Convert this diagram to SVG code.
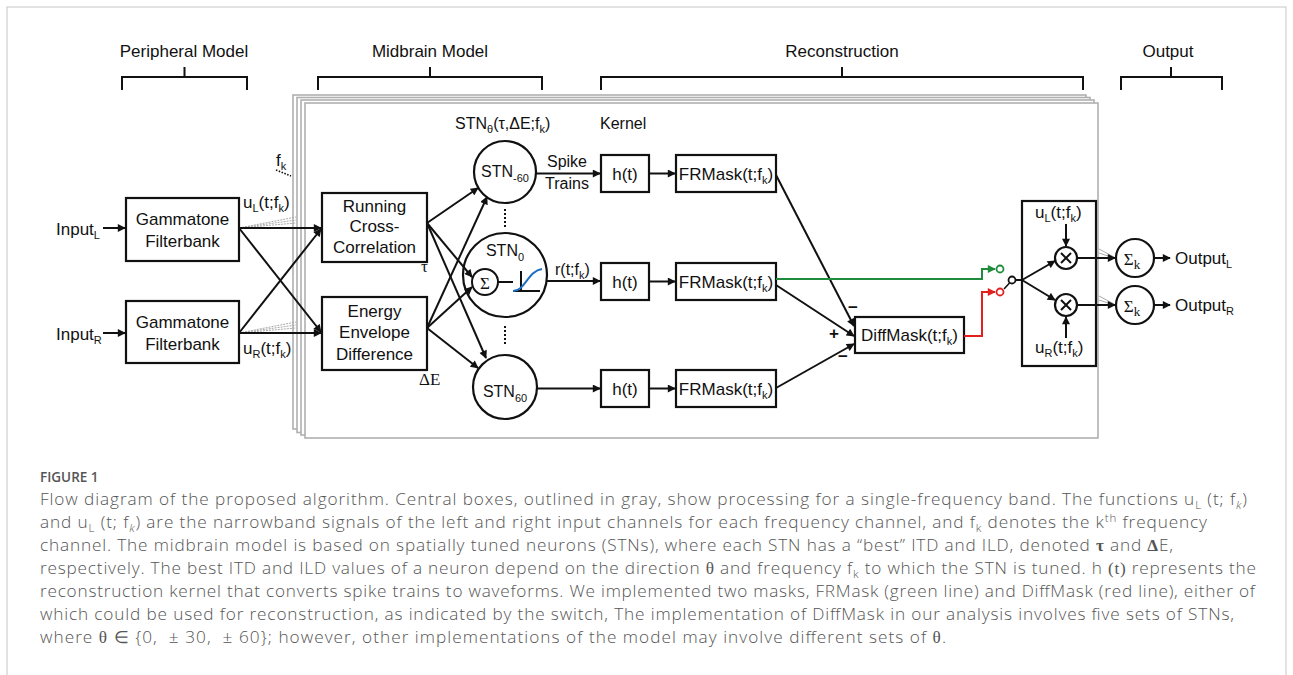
<svg xmlns="http://www.w3.org/2000/svg" width="1293" height="675" viewBox="0 0 1293 675">
<style>
.t{font-family:"Liberation Sans",Arial,sans-serif;fill:#111;font-size:17px}
.s{font-size:16px}
.sub{font-size:11px}
.sr{font-family:"Liberation Serif","Times New Roman",serif}
.box{fill:#fff;stroke:#111;stroke-width:2.2}
.ln{stroke:#111;stroke-width:2;fill:none}
.ar{stroke:#111;stroke-width:2;fill:none;marker-end:url(#ah)}
.frame{fill:#fff;stroke:#b0b0b0;stroke-width:1.6}
.fan{stroke:#aaa;stroke-width:1;fill:none}
.cap{font-family:"Open Sans","Liberation Sans",sans-serif;font-size:17.2px;font-weight:300;fill:#555}
.fig{font-family:"Open Sans","Liberation Sans",sans-serif;font-size:13.5px;font-weight:600;fill:#555}
.cs{font-size:11.5px}
.bs{font-family:"Liberation Serif",serif;font-weight:bold}
.ct{font-family:"Liberation Serif",serif;font-weight:normal}
</style>
<defs>
<marker id="ah" viewBox="0 0 10 10" refX="9" refY="5" markerWidth="4.5" markerHeight="4" orient="auto" markerUnits="strokeWidth"><path d="M0,0 L10,5 L0,10 z" fill="#111"/></marker>
<marker id="ahg" viewBox="0 0 10 10" refX="9" refY="5" markerWidth="4.5" markerHeight="4" orient="auto" markerUnits="strokeWidth"><path d="M0,0 L10,5 L0,10 z" fill="#1e8c3a"/></marker>
<marker id="ahr" viewBox="0 0 10 10" refX="9" refY="5" markerWidth="4.5" markerHeight="4" orient="auto" markerUnits="strokeWidth"><path d="M0,0 L10,5 L0,10 z" fill="#e3201b"/></marker>
</defs>
<rect x="0" y="0" width="1293" height="675" fill="#fff"/>
<rect x="7" y="7" width="1279" height="720" fill="none" stroke="#cfcfcf" stroke-width="1.2"/>

<g id="headers">
<text class="t" x="184" y="57" text-anchor="middle">Peripheral Model</text>
<text class="t" x="430" y="57" text-anchor="middle">Midbrain Model</text>
<text class="t" x="842" y="57" text-anchor="middle">Reconstruction</text>
<text class="t" x="1168" y="57" text-anchor="middle">Output</text>
<path class="ln" d="M122,90 V77 H247 V90 M184.5,77 V67 M318,90 V77 H542 V90 M430,77 V67 M601,90 V77 H1083 V90 M842,77 V67 M1121,90 V77 H1222 V90 M1171,77 V67"/>
</g>

<g id="band-frames">
<rect class="frame" x="293" y="95" width="793" height="334"/>
<rect class="frame" x="297" y="97.5" width="793" height="335"/>
<rect class="frame" x="301" y="100" width="793" height="335"/>
<rect class="frame" x="305" y="103" width="793" height="335"/>
</g>

<g id="inputL"><text class="t" x="56" y="235">Input<tspan class="sub" dy="4">L</tspan></text></g>
<g id="inputR"><text class="t" x="56" y="340">Input<tspan class="sub" dy="4">R</tspan></text></g>

<g id="gammatoneL">
<rect class="box" x="126" y="198" width="113" height="63"/>
<text class="t" x="182.5" y="225" text-anchor="middle">Gammatone</text>
<text class="t" x="182.5" y="247" text-anchor="middle">Filterbank</text>
</g>
<g id="gammatoneR">
<rect class="box" x="126" y="301" width="113" height="62"/>
<text class="t" x="182.5" y="328" text-anchor="middle">Gammatone</text>
<text class="t" x="182.5" y="350" text-anchor="middle">Filterbank</text>
</g>

<g id="labels-left">
<text class="t" x="276" y="166" font-size="15">f<tspan class="sub" dy="4">k</tspan></text>
<path d="M276,170 L291,176" stroke="#111" stroke-width="1.6" stroke-dasharray="1.5 1.5"/>
<text class="t" x="243" y="208" font-size="15">u<tspan class="sub" dy="4">L</tspan><tspan dy="-4">(t;f</tspan><tspan class="sub" dy="4">k</tspan><tspan dy="-4">)</tspan></text>
<text class="t" x="243" y="354" font-size="15">u<tspan class="sub" dy="4">R</tspan><tspan dy="-4">(t;f</tspan><tspan class="sub" dy="4">k</tspan><tspan dy="-4">)</tspan></text>
</g>

<g id="rcc">
<rect class="box" x="322" y="193" width="105" height="69"/>
<text class="t" x="374.5" y="212" text-anchor="middle">Running</text>
<text class="t" x="374.5" y="232" text-anchor="middle">Cross-</text>
<text class="t" x="374.5" y="253" text-anchor="middle">Correlation</text>
<text class="t sr" x="421" y="272" font-size="14">τ</text>
</g>
<g id="eed">
<rect class="box" x="322" y="297" width="105" height="73"/>
<text class="t" x="374.5" y="317" text-anchor="middle">Energy</text>
<text class="t" x="374.5" y="338" text-anchor="middle">Envelope</text>
<text class="t" x="374.5" y="360" text-anchor="middle">Difference</text>
<text class="t sr" x="419" y="385" font-size="16">ΔE</text>
</g>

<g id="stn-title">
<text class="t s" x="455" y="129">STN<tspan class="sub" dy="4">θ</tspan><tspan dy="-4">(τ,ΔE;f</tspan><tspan class="sub" dy="4">k</tspan><tspan dy="-4">)</tspan></text>
<text class="t s" x="600" y="129">Kernel</text>
</g>

<g id="stn-60">
<circle cx="505" cy="172" r="31" fill="#fff" stroke="#111" stroke-width="2.2"/>
<text class="t s" x="505" y="177" text-anchor="middle">STN<tspan class="sub" dy="5">-60</tspan></text>
</g>
<g id="stn0">
<circle cx="505" cy="275" r="42" fill="#fff" stroke="#111" stroke-width="2.2"/>
<text class="t s" x="505" y="256" text-anchor="middle">STN<tspan class="sub" dy="5">0</tspan></text>
<circle cx="485" cy="282" r="13" fill="#fff" stroke="#111" stroke-width="2"/>
<text class="t sr" x="485" y="289" font-size="20" text-anchor="middle">Σ</text>
<path class="ln" d="M498,282 H513 M521,271 V291 M513,291 H540"/>
<path d="M513,291 C525,291 528,271 542,269" fill="none" stroke="#1f6fc0" stroke-width="2"/>
</g>
<g id="stn60">
<circle cx="505" cy="387" r="32" fill="#fff" stroke="#111" stroke-width="2.2"/>
<text class="t s" x="505" y="397" text-anchor="middle">STN<tspan class="sub" dy="5">60</tspan></text>
</g>
<g id="stn-dots">
<path d="M505,209 V227 M505,326 V344" stroke="#111" stroke-width="2" stroke-dasharray="2 2"/>
</g>

<g id="stn-labels">
<text class="t s" x="567" y="167" text-anchor="middle">Spike</text>
<text class="t s" x="567" y="189" text-anchor="middle">Trains</text>
<text class="t s" x="555" y="275">r(t;f<tspan class="sub" dy="4">k</tspan><tspan dy="-4">)</tspan></text>
</g>

<g id="h1"><rect class="box" x="601" y="155" width="48" height="37"/><text class="t" x="625" y="180" text-anchor="middle">h(t)</text></g>
<g id="h2"><rect class="box" x="601" y="263" width="48" height="37"/><text class="t" x="625" y="288" text-anchor="middle">h(t)</text></g>
<g id="h3"><rect class="box" x="601" y="370" width="48" height="37"/><text class="t" x="625" y="395" text-anchor="middle">h(t)</text></g>

<g id="frmask1"><rect class="box" x="676" y="155" width="100" height="37"/><text class="t" x="726" y="180" text-anchor="middle">FRMask(t;f<tspan class="sub" dy="4">k</tspan><tspan dy="-4">)</tspan></text></g>
<g id="frmask2"><rect class="box" x="676" y="263" width="100" height="37"/><text class="t" x="726" y="288" text-anchor="middle">FRMask(t;f<tspan class="sub" dy="4">k</tspan><tspan dy="-4">)</tspan></text></g>
<g id="frmask3"><rect class="box" x="676" y="370" width="100" height="37"/><text class="t" x="726" y="395" text-anchor="middle">FRMask(t;f<tspan class="sub" dy="4">k</tspan><tspan dy="-4">)</tspan></text></g>

<g id="diffmask">
<rect class="box" x="855" y="317" width="109" height="36"/>
<text class="t" x="909.5" y="341" text-anchor="middle">DiffMask(t;f<tspan class="sub" dy="4">k</tspan><tspan dy="-4">)</tspan></text>
<text class="t" x="853" y="313" font-size="18" font-weight="bold" text-anchor="middle">−</text>
<text class="t" x="834" y="339" font-size="16" font-weight="bold" text-anchor="middle">+</text>
<text class="t" x="843" y="362" font-size="18" font-weight="bold" text-anchor="middle">−</text>
</g>

<g id="switch">
<circle cx="1000" cy="269" r="3.5" fill="#fff" stroke="#1e8c3a" stroke-width="1.8"/>
<circle cx="1000" cy="292" r="3.5" fill="#fff" stroke="#e3201b" stroke-width="1.8"/>
<circle cx="1012" cy="280" r="3.5" fill="#fff" stroke="#111" stroke-width="1.8"/>
<path d="M1009.5,283 L1004,289" stroke="#111" stroke-width="1.6"/>
</g>

<g id="multiply">
<rect class="box" x="1022" y="201" width="74" height="165"/>
<text class="t" x="1035" y="218" font-size="15">u<tspan class="sub" dy="4">L</tspan><tspan dy="-4">(t;f</tspan><tspan class="sub" dy="4">k</tspan><tspan dy="-4">)</tspan></text>
<text class="t" x="1035" y="353" font-size="15">u<tspan class="sub" dy="4">R</tspan><tspan dy="-4">(t;f</tspan><tspan class="sub" dy="4">k</tspan><tspan dy="-4">)</tspan></text>
<circle cx="1066" cy="258" r="11" fill="#fff" stroke="#111" stroke-width="2.2"/>
<path class="ln" d="M1061,253 L1071,263 M1071,253 L1061,263" stroke-width="2.4"/>
<circle cx="1066" cy="305" r="11" fill="#fff" stroke="#111" stroke-width="2.2"/>
<path class="ln" d="M1061,300 L1071,310 M1071,300 L1061,310" stroke-width="2.4"/>
</g>

<g id="sumL">
<circle cx="1135" cy="258" r="19" fill="#fff" stroke="#111" stroke-width="2.2"/>
<text class="t sr" x="1132" y="265" font-size="21" text-anchor="middle">Σ<tspan font-size="13" dy="4">k</tspan></text>
</g>
<g id="sumR">
<circle cx="1135" cy="305" r="19" fill="#fff" stroke="#111" stroke-width="2.2"/>
<text class="t sr" x="1132" y="312" font-size="21" text-anchor="middle">Σ<tspan font-size="13" dy="4">k</tspan></text>
</g>
<g id="outputL"><text class="t" x="1175" y="264">Output<tspan class="sub" dy="4">L</tspan></text></g>
<g id="outputR"><text class="t" x="1175" y="311">Output<tspan class="sub" dy="4">R</tspan></text></g>

<g id="connectors">
<path class="fan" d="M239,228 L296,217 M239,228 L296,220 M239,228 L296,223 M239,333 L296,322 M239,333 L296,325 M239,333 L296,328" stroke-dasharray="2 1"/>
<path class="fan" d="M1099,249 L1114,257 M1099,253 L1114,258 M1099,296 L1114,304 M1099,300 L1114,305"/>
<path class="ar" d="M103,228 H125"/>
<path class="ar" d="M103,333 H125"/>
<path class="ar" d="M239,228 L321,228"/>
<path class="ar" d="M239,228 L321,332"/>
<path class="ar" d="M239,333 L321,229"/>
<path class="ar" d="M239,333 L321,333"/>
<path class="ar" d="M427,223 L478,188"/>
<path class="ar" d="M427,223 L472,277"/>
<path class="ar" d="M427,223 L486,358"/>
<path class="ar" d="M427,328 L487,197"/>
<path class="ar" d="M427,328 L472,287"/>
<path class="ar" d="M427,328 L478,368"/>
<path class="ar" d="M536,173.5 H600"/>
<path class="ar" d="M546.6,281 H600"/>
<path class="ar" d="M537,388.5 H600"/>
<path class="ar" d="M649,173.5 H675"/>
<path class="ar" d="M649,281.5 H675"/>
<path class="ar" d="M649,388.5 H675"/>
<path class="ar" d="M776,175 L854,326"/>
<path class="ar" d="M776,285 L854,336"/>
<path class="ar" d="M776,388 L854,344"/>
<path d="M776,279 H982 V269 H995" fill="none" stroke="#1e8c3a" stroke-width="2" marker-end="url(#ahg)"/>
<path d="M964,336 H982 V292 H995" fill="none" stroke="#e3201b" stroke-width="2" marker-end="url(#ahr)"/>
<path class="ln" d="M1015.5,280 H1022"/>
<path class="ar" d="M1022,280 L1055,261"/>
<path class="ar" d="M1022,280 L1055,300"/>
<path class="ar" d="M1066,224 V246"/>
<path class="ar" d="M1066,338 V317"/>
<path class="ar" d="M1077,258 H1115"/>
<path class="ar" d="M1077,305 H1115"/>
<path class="ar" d="M1154,258 H1170"/>
<path class="ar" d="M1154,305 H1170"/>
</g>

<g id="caption">
<text class="fig" x="40" y="482">FIGURE 1</text>
<text class="cap" x="40" y="505" textLength="1207" lengthAdjust="spacing">Flow diagram of the proposed algorithm. Central boxes, outlined in gray, show processing for a single-frequency band. The functions u<tspan class="cs" dy="4">L</tspan><tspan dy="-4"> (t; f</tspan><tspan class="cs" dy="4" font-style="italic">k</tspan><tspan dy="-4">)</tspan></text>
<text class="cap" x="40" y="528" textLength="1167" lengthAdjust="spacing">and u<tspan class="cs" dy="4">L</tspan><tspan dy="-4"> (t; f</tspan><tspan class="cs" dy="4" font-style="italic">k</tspan><tspan dy="-4">) are the narrowband signals of the left and right input channels for each frequency channel, and f</tspan><tspan class="cs" dy="4">k</tspan><tspan dy="-4"> denotes the k</tspan><tspan class="cs" dy="-6">th</tspan><tspan dy="6"> frequency</tspan></text>
<text class="cap" x="40" y="551" textLength="1133" lengthAdjust="spacing">channel. The midbrain model is based on spatially tuned neurons (STNs), where each STN has a “best” ITD and ILD, denoted <tspan class="bs">τ</tspan> and <tspan class="bs">Δ</tspan>E,</text>
<text class="cap" x="40" y="574" textLength="1216" lengthAdjust="spacing">respectively. The best ITD and ILD values of a neuron depend on the direction <tspan class="ct">θ</tspan> and frequency f<tspan class="cs" dy="4">k</tspan><tspan dy="-4"> to which the STN is tuned. h </tspan><tspan class="ct">(t)</tspan> represents the</text>
<text class="cap" x="40" y="597" textLength="1215" lengthAdjust="spacing">reconstruction kernel that converts spike trains to waveforms. We implemented two masks, FRMask (green line) and DiffMask (red line), either of</text>
<text class="cap" x="40" y="620" textLength="1194" lengthAdjust="spacing">which could be used for reconstruction, as indicated by the switch, The implementation of DiffMask in our analysis involves five sets of STNs,</text>
<text class="cap" x="40" y="643" textLength="906" lengthAdjust="spacing">where <tspan class="ct">θ</tspan> ∈ {0, &#160;± 30, &#160;± 60}; however, other implementations of the model may involve different sets of <tspan class="ct">θ</tspan>.</text>
</g>
</svg>
